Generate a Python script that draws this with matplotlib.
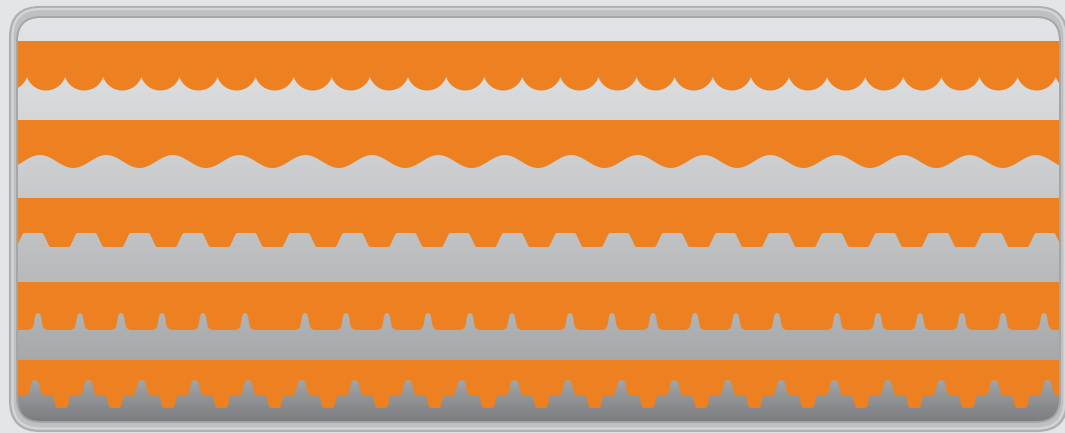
import numpy as np
import matplotlib
matplotlib.use("Agg")
import matplotlib.pyplot as plt
from matplotlib.patches import FancyBboxPatch

# ---- data ----
edge_names   = ["scallop", "wave", "trapezoid", "spike", "knob"]
band_top     = [41, 120, 198, 282, 360]      # top of each orange band
edge_peak    = [77, 155, 233, 313, 380]      # highest point the grey reaches into the band
edge_floor   = [90.5, 168, 247, 330, 408]    # lowest point of the orange edge
edge_period  = [38.1, 66.4, 53.26, 0, 53.3]
edge_phase   = [27, 40, 33, 0, 35]
spike_x      = [38, 80, 121, 162, 203, 245, 305, 346, 387, 428, 470, 512,
                570, 612, 653, 695, 736, 777, 837, 878, 920, 962, 1003, 1044]

ORANGE = "#ED8122"
W, H = 1065, 433

fig = plt.figure(figsize=(W / 100, H / 100), dpi=100)
fig.patch.set_facecolor("#e3e5e7")
ax = fig.add_axes([0, 0, 1, 1])
ax.set_xlim(0, W)
ax.set_ylim(H, 0)
ax.axis("off")

# frame
frame = FancyBboxPatch((10, 7), 1057, 424, boxstyle="round,pad=0,rounding_size=30",
                       facecolor="#bec0c2", edgecolor="#aeb0b2", lw=1.5, zorder=1)
ax.add_patch(frame)
frame_hi = FancyBboxPatch((12.5, 9), 1052, 419.5, boxstyle="round,pad=0,rounding_size=28",
                          facecolor="none", edgecolor="#d4d6d8", lw=1.6, zorder=1.5)
ax.add_patch(frame_hi)

panel = FancyBboxPatch((17, 17), 1043, 405, boxstyle="round,pad=0,rounding_size=24",
                       facecolor="none", edgecolor="#a4a6a8", lw=1.4, zorder=10)
ax.add_patch(panel)

# gradient fill of panel
stops_y = np.array([17, 100, 200, 300, 380, 422])
stops_c = np.array([[0.886, 0.894, 0.902],
                    [0.843, 0.851, 0.859],
                    [0.776, 0.784, 0.792],
                    [0.706, 0.714, 0.718],
                    [0.635, 0.643, 0.647],
                    [0.480, 0.488, 0.500]])
ys = np.linspace(17, 422, 400)
grad = np.stack([np.interp(ys, stops_y, stops_c[:, i]) for i in range(3)], axis=-1)[:, None, :]
im = ax.imshow(grad, extent=[17, 1060, 422, 17], aspect="auto", origin="upper",
               interpolation="bilinear", zorder=2)
im.set_clip_path(panel)

# profiles
step = 0.25
x = np.arange(-30, W + 30, step)

def wrap(xv, phase, period):
    return np.abs(((xv - phase) + period / 2) % period - period / 2)

def smooth(y, sigma_px=0.8):
    s = sigma_px / step
    k = np.arange(-int(4 * s), int(4 * s) + 1)
    g = np.exp(-0.5 * (k / s) ** 2)
    g /= g.sum()
    yp = np.pad(y, len(k) // 2, mode="edge")
    return np.convolve(yp, g, mode="valid")

profiles = []

# 1 scallops
P, ph, pk, fl = edge_period[0], edge_phase[0], edge_peak[0], edge_floor[0]
d = ((x - ph) % P) - P / 2
sag = fl - pk
R = ((P / 2) ** 2 + sag ** 2) / (2 * sag)
yc = fl - R
profiles.append(yc + np.sqrt(np.clip(R ** 2 - d ** 2, 0, None)))

# 2 wave
P, ph, pk, fl = edge_period[1], edge_phase[1], edge_peak[1], edge_floor[1]
profiles.append((pk + fl) / 2 - (fl - pk) / 2 * np.cos(2 * np.pi * (x - ph) / P))

# 3 trapezoids
P, ph, pk, fl = edge_period[2], edge_phase[2], edge_peak[2], edge_floor[2]
d = wrap(x, ph, P)
y3 = np.where(d <= 10, pk, np.where(d < 16.5, pk + (fl - pk) * (d - 10) / 6.5, fl))
profiles.append(smooth(y3, 0.7))

# 4 spikes
pk, fl = edge_peak[3], edge_floor[3]
d = np.min(np.abs(x[:, None] - np.array(spike_x)[None, :]), axis=1)
hw, rf = 3.6, 7.0
y4 = np.where(d < hw, pk + hw - np.sqrt(np.clip(hw ** 2 - d ** 2, 0, None)),
     np.where(d < hw + rf, (fl - rf) + np.sqrt(np.clip(rf ** 2 - (hw + rf - d) ** 2, 0, None)), fl))
profiles.append(smooth(y4, 0.8))

# 5 knobs
P, ph, pk, fl = edge_period[4], edge_phase[4], edge_peak[4], edge_floor[4]
plateau = 395
d = wrap(x, ph, P)
kw, rk = 5.0, 3.5
dt = np.abs(d - P / 2)
tw, rt = 7.6, 4.5
y5 = np.full_like(x, plateau, dtype=float)
y5 = np.where(d < kw, pk + kw - np.sqrt(np.clip(kw ** 2 - d ** 2, 0, None)), y5)
y5 = np.where((d >= kw) & (d < kw + rk),
              (plateau - rk) + np.sqrt(np.clip(rk ** 2 - (kw + rk - d) ** 2, 0, None)), y5)
tooth = (fl - rt) + np.sqrt(np.clip(rt ** 2 - np.clip(dt - (tw - rt), 0, None) ** 2, 0, None))
y5 = np.where(dt < tw, tooth, y5)
profiles.append(smooth(y5, 1.0))

for top, prof in zip(band_top, profiles):
    poly = ax.fill_between(x, top, prof, color=ORANGE, lw=0, zorder=3)
    poly.set_clip_path(panel)

fig.savefig("out.png", dpi=100, facecolor=fig.get_facecolor())
